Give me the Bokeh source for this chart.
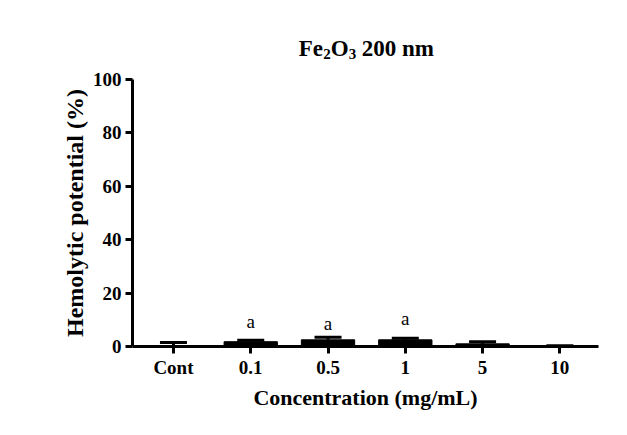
from bokeh.plotting import figure
from bokeh.layouts import column
from bokeh.models import Range1d, FixedTicker, ColumnDataSource, Whisker, TeeHead
from bokeh.core.properties import value
from bokeh.embed import file_html
from bokeh.resources import INLINE

# ---- data ----
categories = ["Cont", "0.1", "0.5", "1", "5", "10"]
means = [0.2, 1.8, 2.5, 2.5, 1.0, 0.2]
errors = [1.3, 0.5, 1.0, 0.6, 0.8, 0.1]
letters = ["a", "a", "a"]
letter_cats = ["0.1", "0.5", "1"]
letter_y = [9.4, 8.8, 10.5]
y_ticks = [0, 20, 40, 60, 80, 100]
title_main = ["Fe", "O", "200 nm"]
title_subs = ["2", "3"]

FONT = "Liberation Serif"

xpos = list(range(len(categories)))
upper = [m + e for m, e in zip(means, errors)]
src = ColumnDataSource(dict(x=xpos, mean=means, upper=upper))

xr = Range1d(-0.53, 5.5)

# ---- title strip (text pieces so the subscripts can be shown) ----
t = figure(frame_width=466, frame_height=64, x_range=xr, y_range=Range1d(64, 0),
           output_backend="svg", toolbar_location=None,
           x_axis_type=None, y_axis_type=None,
           min_border_left=132, min_border_right=20, min_border_top=0, min_border_bottom=0)
t.outline_line_color = None
t.xgrid.visible = False
t.ygrid.visible = False
t.text(x=[2.5] * 3, y=[48] * 3, text=title_main, x_offset=[-68, -36, -5],
       text_font=value(FONT), text_font_style="bold", text_font_size="23px",
       text_align="left", text_baseline="alphabetic", text_color="black")
t.text(x=[2.5] * 2, y=[53] * 2, text=title_subs, x_offset=[-43.5, -18],
       text_font=value(FONT), text_font_style="bold", text_font_size="15px",
       text_align="left", text_baseline="alphabetic", text_color="black")

# ---- main plot ----
p = figure(
    frame_width=466, frame_height=267,
    x_range=xr, y_range=Range1d(0, 100),
    output_backend="svg", toolbar_location=None,
    min_border_left=132, min_border_top=15, min_border_right=20, min_border_bottom=81,
)
p.outline_line_color = None
p.xgrid.visible = False
p.ygrid.visible = False

p.vbar(x="x", top="mean", width=0.69, bottom=0, source=src,
       fill_color="black", line_color="black", line_width=1)

w = Whisker(base="x", upper="upper", lower="mean", source=src,
            line_color="black", line_width=3,
            upper_head=TeeHead(size=27, line_width=3, line_color="black"),
            lower_head=None)
p.add_layout(w)

lx = [categories.index(c) for c in letter_cats]
p.text(x=lx, y=letter_y, text=letters, text_font=value(FONT),
       text_font_size="19px", text_align="center", text_baseline="middle",
       text_color="black")

for ax in (p.xaxis[0], p.yaxis[0]):
    ax.axis_line_width = 3
    ax.axis_line_color = "black"
    ax.major_tick_line_width = 3
    ax.major_tick_line_color = "black"
    ax.major_tick_in = 0
    ax.major_tick_out = 7
    ax.minor_tick_line_color = None
    ax.major_label_text_font = FONT
    ax.major_label_text_font_style = "bold"
    ax.major_label_text_font_size = "19px"
    ax.major_label_text_color = "black"
    ax.axis_label_text_font = FONT
    ax.axis_label_text_font_style = "bold"
    ax.axis_label_text_color = "black"

p.xaxis.ticker = FixedTicker(ticks=xpos)
p.xaxis.major_label_overrides = {i: c for i, c in zip(xpos, categories)}
p.xaxis.axis_label = "Concentration (mg/mL)"
p.xaxis.axis_label_text_font_size = "22px"
p.xaxis.major_label_standoff = 3
p.xaxis.axis_label_standoff = 4

p.yaxis.ticker = FixedTicker(ticks=y_ticks)
p.yaxis.axis_label = "Hemolytic potential (%)"
p.yaxis.axis_label_text_font_size = "24px"
p.yaxis.major_label_standoff = 4
p.yaxis.axis_label_standoff = 2

layout = column(t, p, spacing=0)
open("out.html", "w").write(file_html(layout, INLINE))
